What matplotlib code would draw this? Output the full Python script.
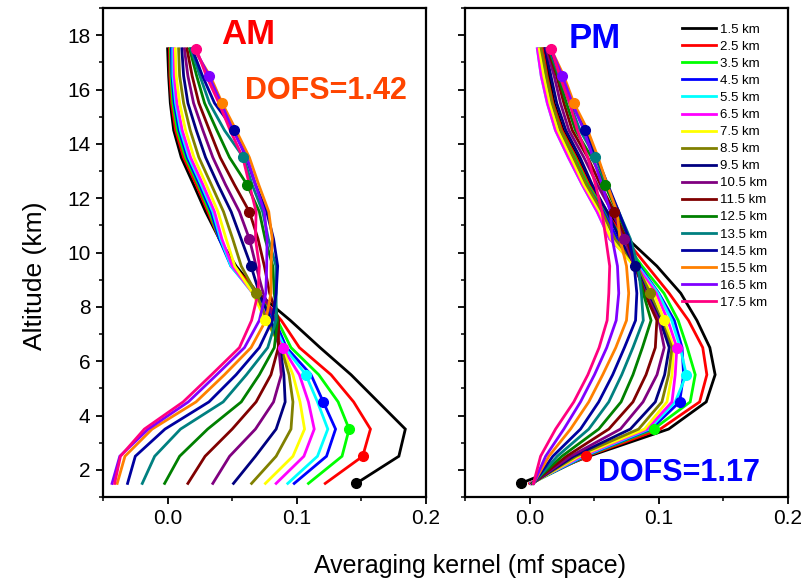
import numpy as np
import matplotlib
matplotlib.use("Agg")
import matplotlib.pyplot as plt
from matplotlib.ticker import MultipleLocator, FormatStrFormatter

plt.rcParams['font.family'] = ['Liberation Sans', 'DejaVu Sans']

# Retrieval levels (km) and kernel labels
altitudes = [1.5, 2.5, 3.5, 4.5, 5.5, 6.5, 7.5, 8.5, 9.5, 10.5, 11.5, 12.5, 13.5, 14.5, 15.5, 16.5, 17.5]
kernel_labels = ['1.5 km', '2.5 km', '3.5 km', '4.5 km', '5.5 km', '6.5 km', '7.5 km', '8.5 km', '9.5 km',
                 '10.5 km', '11.5 km', '12.5 km', '13.5 km', '14.5 km', '15.5 km', '16.5 km', '17.5 km']
kernel_colors = ['#000000', '#FF0000', '#00FF00', '#0000FF', '#00FFFF', '#FF00FF', '#FFFF00', '#808000',
                 '#000080', '#800080', '#800000', '#008000', '#008080', '#0000A0', '#FF8000', '#8000FF', '#FF0080']

# AM averaging kernel: each list holds the values of all 17 kernels at one altitude
am_1p5 = [0.146, 0.122, 0.109, 0.098, 0.093, 0.084, 0.0757, 0.065, 0.051, 0.035, 0.0157, -0.0023, -0.0196, -0.031, -0.039, -0.043, -0.041]
am_2p5 = [0.179, 0.151, 0.135, 0.123, 0.116, 0.1055, 0.097, 0.084, 0.068, 0.048, 0.029, 0.0093, -0.010, -0.025, -0.033, -0.037, -0.0365]
am_3p5 = [0.184, 0.157, 0.1405, 0.130, 0.124, 0.1135, 0.106, 0.0955, 0.084, 0.068, 0.050, 0.031, 0.010, -0.002, -0.012, -0.015, -0.018]
am_4p5 = [0.163, 0.144, 0.132, 0.1205, 0.116, 0.109, 0.1025, 0.097, 0.091, 0.082, 0.0685, 0.057, 0.043, 0.032, 0.022, 0.016, 0.012]
am_5p5 = [0.142, 0.1265, 0.117, 0.111, 0.107, 0.102, 0.097, 0.094, 0.090, 0.088, 0.080, 0.071, 0.061, 0.053, 0.044, 0.038, 0.034]
am_6p5 = [0.118, 0.102, 0.0955, 0.092, 0.0906, 0.089, 0.0885, 0.0878, 0.087, 0.086, 0.0857, 0.0826, 0.0775, 0.071, 0.0646, 0.0595, 0.0556]
am_7p5 = [0.095, 0.088, 0.085, 0.083, 0.081, 0.079, 0.0757, 0.077, 0.080, 0.083, 0.086, 0.085, 0.084, 0.081, 0.076, 0.071, 0.065]
am_8p5 = [0.070, 0.070, 0.068, 0.067, 0.066, 0.066, 0.066, 0.0685, 0.071, 0.074, 0.079, 0.0826, 0.084, 0.084, 0.080, 0.076, 0.070]
am_9p5 = [0.053, 0.051, 0.050, 0.049, 0.049, 0.050, 0.052, 0.057, 0.0646, 0.0685, 0.0749, 0.0814, 0.0839, 0.0852, 0.080, 0.0767, 0.071]
am_10p5 = [0.040, 0.040, 0.040, 0.040, 0.041, 0.042, 0.0453, 0.0504, 0.0569, 0.0633, 0.070, 0.0755, 0.078, 0.082, 0.081, 0.077, 0.068]
am_11p5 = [0.0294, 0.0312, 0.0324, 0.0337, 0.035, 0.0363, 0.039, 0.0433, 0.0492, 0.0556, 0.0633, 0.071, 0.0736, 0.0767, 0.0783, 0.0749, 0.0685]
am_12p5 = [0.0201, 0.0222, 0.0237, 0.0247, 0.026, 0.0273, 0.0299, 0.0338, 0.039, 0.0448, 0.0517, 0.0615, 0.0654, 0.068, 0.0705, 0.068, 0.0633]
am_13p5 = [0.0106, 0.0124, 0.0139, 0.0152, 0.0165, 0.0178, 0.0204, 0.0242, 0.0294, 0.035, 0.0407, 0.0479, 0.0587, 0.0608, 0.0633, 0.0613, 0.0582]
am_14p5 = [0.0047, 0.0062, 0.0075, 0.0088, 0.010, 0.0113, 0.0139, 0.0175, 0.0222, 0.0273, 0.0324, 0.0381, 0.044, 0.0517, 0.053, 0.0505, 0.0484]
am_15p5 = [0.0021, 0.0031, 0.0041, 0.0051, 0.0062, 0.0072, 0.0093, 0.0124, 0.0157, 0.0201, 0.0242, 0.0286, 0.0324, 0.0363, 0.0422, 0.0415, 0.0397]
am_16p5 = [0.0008, 0.0018, 0.0026, 0.0034, 0.0041, 0.0051, 0.0067, 0.0093, 0.0124, 0.0157, 0.019, 0.0225, 0.025, 0.027, 0.033, 0.0319, 0.030]
am_17p5 = [0.000, 0.0015, 0.0023, 0.003, 0.004, 0.005, 0.006, 0.0085, 0.011, 0.013, 0.015, 0.017, 0.018, 0.019, 0.020, 0.021, 0.0221]

# PM averaging kernel, same layout
pm_1p5 = [-0.007, 0.000, 0.001, 0.001, 0.001, 0.001, 0.002, 0.002, 0.002, 0.002, 0.002, 0.002, 0.003, 0.003, 0.003, 0.003, 0.003]
pm_2p5 = [0.0458, 0.044, 0.0432, 0.0425, 0.0414, 0.040, 0.0381, 0.036, 0.034, 0.0317, 0.0286, 0.025, 0.0214, 0.018, 0.0149, 0.0124, 0.0085]
pm_3p5 = [0.1076, 0.1011, 0.096, 0.094, 0.0925, 0.091, 0.089, 0.0844, 0.078, 0.0703, 0.0613, 0.0535, 0.0458, 0.0394, 0.0317, 0.0265, 0.0201]
pm_4p5 = [0.1367, 0.1316, 0.1243, 0.1161, 0.1127, 0.1102, 0.1063, 0.1024, 0.0973, 0.0878, 0.080, 0.0708, 0.0613, 0.0535, 0.0458, 0.0394, 0.0342]
pm_5p5 = [0.1436, 0.1372, 0.1282, 0.1192, 0.1213, 0.1127, 0.1102, 0.1076, 0.1045, 0.0986, 0.0901, 0.080, 0.0713, 0.0643, 0.0566, 0.0502, 0.0451]
pm_6p5 = [0.1395, 0.134, 0.122, 0.118, 0.1166, 0.114, 0.1115, 0.1102, 0.1081, 0.1042, 0.0973, 0.0873, 0.080, 0.0734, 0.0667, 0.0597, 0.0538]
pm_7p5 = [0.1295, 0.123, 0.115, 0.112, 0.110, 0.107, 0.1043, 0.102, 0.101, 0.100, 0.0985, 0.094, 0.088, 0.082, 0.075, 0.067, 0.060]
pm_8p5 = [0.117, 0.108, 0.104, 0.100, 0.0995, 0.098, 0.096, 0.0934, 0.091, 0.090, 0.089, 0.088, 0.0865, 0.083, 0.0767, 0.069, 0.0613]
pm_9p5 = [0.0985, 0.091, 0.087, 0.085, 0.084, 0.083, 0.081, 0.083, 0.0819, 0.081, 0.082, 0.083, 0.084, 0.081, 0.075, 0.068, 0.062]
pm_10p5 = [0.076, 0.074, 0.072, 0.068, 0.062, 0.062, 0.063, 0.066, 0.070, 0.0734, 0.075, 0.077, 0.078, 0.077, 0.070, 0.064, 0.059]
pm_11p5 = [0.060, 0.0587, 0.058, 0.057, 0.0523, 0.0523, 0.0543, 0.0561, 0.060, 0.0638, 0.0656, 0.0677, 0.069, 0.069, 0.0677, 0.0625, 0.0561]
pm_12p5 = [0.047, 0.046, 0.045, 0.044, 0.0407, 0.0407, 0.042, 0.044, 0.0484, 0.0523, 0.0548, 0.0582, 0.0595, 0.0605, 0.060, 0.056, 0.051]
pm_13p5 = [0.037, 0.036, 0.035, 0.034, 0.030, 0.030, 0.032, 0.034, 0.039, 0.042, 0.045, 0.048, 0.051, 0.052, 0.053, 0.049, 0.045]
pm_14p5 = [0.026, 0.025, 0.024, 0.023, 0.020, 0.020, 0.022, 0.024, 0.028, 0.0304, 0.033, 0.0355, 0.039, 0.043, 0.045, 0.042, 0.037]
pm_15p5 = [0.019, 0.018, 0.017, 0.016, 0.0137, 0.0137, 0.0157, 0.0175, 0.021, 0.0239, 0.0265, 0.0285, 0.031, 0.0325, 0.0343, 0.033, 0.031]
pm_16p5 = [0.0149, 0.0135, 0.012, 0.0105, 0.009, 0.009, 0.011, 0.013, 0.0165, 0.019, 0.021, 0.022, 0.023, 0.024, 0.0265, 0.0253, 0.0234]
pm_17p5 = [0.011, 0.010, 0.008, 0.007, 0.006, 0.006, 0.0075, 0.009, 0.012, 0.013, 0.014, 0.015, 0.0155, 0.016, 0.0165, 0.0165, 0.0167]

am_matrix = np.array([am_1p5, am_2p5, am_3p5, am_4p5, am_5p5, am_6p5, am_7p5, am_8p5, am_9p5,
                      am_10p5, am_11p5, am_12p5, am_13p5, am_14p5, am_15p5, am_16p5, am_17p5])
pm_matrix = np.array([pm_1p5, pm_2p5, pm_3p5, pm_4p5, pm_5p5, pm_6p5, pm_7p5, pm_8p5, pm_9p5,
                      pm_10p5, pm_11p5, pm_12p5, pm_13p5, pm_14p5, pm_15p5, pm_16p5, pm_17p5])

fig = plt.figure(figsize=(8.03, 5.83), dpi=100)
ax_am = fig.add_axes([103 / 803, 1 - 497 / 583, 323 / 803, 489 / 583])
ax_pm = fig.add_axes([465 / 803, 1 - 497 / 583, 323 / 803, 489 / 583])

z = np.array(altitudes)


def draw_kernels(ax, matrix):
    handles = []
    for j, (lab, col) in enumerate(zip(kernel_labels, kernel_colors)):
        h, = ax.plot(matrix[:, j], z, color=col, lw=2.0, label=lab, zorder=2 + j * 0.01,
                     solid_joinstyle='miter')
        handles.append(h)
    # each kernel's own retrieval level
    for j, col in enumerate(kernel_colors):
        ax.plot(matrix[j, j], z[j], 'o', color=col, ms=7, mec=col, zorder=4)
    return handles


def style_axis(ax, show_ylabels):
    ax.set_xlim(-0.05, 0.2)
    ax.set_ylim(1, 19)
    ax.xaxis.set_major_locator(MultipleLocator(0.1))
    ax.xaxis.set_minor_locator(MultipleLocator(0.05))
    ax.yaxis.set_major_locator(MultipleLocator(2))
    ax.yaxis.set_minor_locator(MultipleLocator(1))
    ax.xaxis.set_major_formatter(FormatStrFormatter('%.1f'))
    for s in ax.spines.values():
        s.set_linewidth(1.6)
    ax.tick_params(which='major', direction='out', length=5, width=1.3, labelsize=15, pad=4,
                   top=False, right=False)
    ax.tick_params(which='minor', direction='out', length=3, width=1.1, top=False, right=False)
    if not show_ylabels:
        ax.tick_params(axis='y', which='both', labelleft=False)


draw_kernels(ax_am, am_matrix)
handles = draw_kernels(ax_pm, pm_matrix)
style_axis(ax_am, True)
style_axis(ax_pm, False)

fig.text(35 / 803, 1 - 276 / 583, 'Altitude (km)', fontsize=19, rotation=90,
         ha='center', va='center')
fig.text(470 / 803, 1 - 566 / 583, 'Averaging kernel (mf space)', fontsize=18,
         ha='center', va='center')

fig.text(248 / 803, 1 - 35 / 583, 'AM', color='#FF0000', fontsize=25, fontweight='bold',
         ha='center', va='center')
fig.text(326 / 803, 1 - 91 / 583, 'DOFS=1.42', color='#FF4500', fontsize=22, fontweight='bold',
         ha='center', va='center')
fig.text(595 / 803, 1 - 39 / 583, 'PM', color='#0000FF', fontsize=25, fontweight='bold',
         ha='center', va='center')
fig.text(679 / 803, 1 - 473 / 583, 'DOFS=1.17', color='#0000FF', fontsize=22, fontweight='bold',
         ha='center', va='center')

ax_pm.legend(handles=handles, loc='upper left', bbox_to_anchor=(0.672, 0.968), frameon=False,
             fontsize=9.5, handlelength=2.6, handletextpad=0.25, labelspacing=0.365,
             borderpad=0, borderaxespad=0)

fig.savefig('out.png', dpi=100)
